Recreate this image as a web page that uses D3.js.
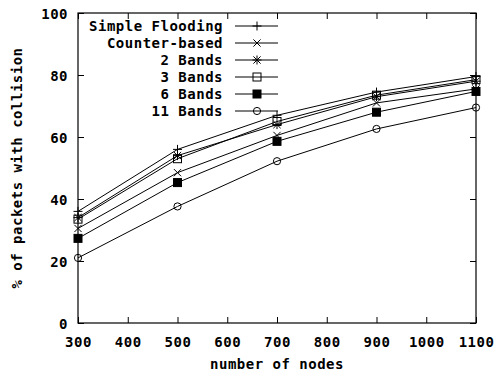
<!DOCTYPE html>
<html>
<head>
<meta charset="utf-8">
<script src="https://cdn.jsdelivr.net/npm/d3@7"></script>
<style>
body { margin: 0; background: #fff; }
text { font-family: "DejaVu Sans Mono", monospace; font-weight: bold; font-size: 14px; letter-spacing: 0.5px; fill: #000; }
</style>
</head>
<body>
<svg id="svg1" width="499" height="377"></svg>
<script>
var svg = d3.select('#svg1');

var nodes = [300, 500, 700, 900, 1100];
var xTicks = [300, 400, 500, 600, 700, 800, 900, 1000, 1100];
var yTicks = [0, 20, 40, 60, 80, 100];

var seriesNames = ['Simple Flooding', 'Counter-based', '2 Bands', '3 Bands', '6 Bands', '11 Bands'];
var seriesMarks = ['plus', 'cross', 'star', 'box', 'fbox', 'circle'];

var simpleFlooding = [36, 56, 67, 74.5, 79.5];
var counterBased = [30.5, 48.5, 60.5, 71, 75.5];
var twoBands = [34, 54, 64, 73, 78];
var threeBands = [33.5, 53, 65, 73.5, 78.5];
var sixBands = [27.3, 45.3, 58.6, 68, 74.7];
var elevenBands = [21, 37.6, 52.2, 62.6, 69.5];

var seriesValues = [simpleFlooding, counterBased, twoBands, threeBands, sixBands, elevenBands];

var padding = {t: 13, r: 23, b: 54, l: 78};
var w = 499 - padding.l - padding.r;
var h = 377 - padding.t - padding.b;

var xScale = d3.scaleLinear().domain([300, 1100]).range([0, w]);
var yScale = d3.scaleLinear().domain([0, 100]).range([h, 0]);

var plot = svg.append('g')
    .attr('transform', 'translate(' + [padding.l, padding.t] + ')');

// ticks on all four sides, pointing inward
function tickLines(axis, tr) {
    var g = plot.append('g').attr('transform', tr).call(axis);
    g.select('.domain').remove();
    g.selectAll('line').attr('stroke', '#000');
    g.selectAll('text').attr('font-size', null).attr('font-family', null);
    return g;
}
tickLines(d3.axisBottom(xScale).tickValues(xTicks).tickSize(-6).tickPadding(14).tickFormat(d3.format('d')), 'translate(0,' + h + ')');
tickLines(d3.axisTop(xScale).tickValues(xTicks).tickSize(-6).tickFormat(''), 'translate(0,0)');
tickLines(d3.axisLeft(yScale).tickValues(yTicks).tickSize(-6).tickPadding(10), 'translate(0,0)')
    .selectAll('text').attr('dy', '0.38em');
tickLines(d3.axisRight(yScale).tickValues(yTicks).tickSize(-6).tickFormat(''), 'translate(' + w + ',0)');

plot.append('rect')
    .attr('width', w)
    .attr('height', h)
    .attr('fill', 'none')
    .attr('stroke', '#000')
    .attr('stroke-width', 1.2);

function drawMark(g, type, x, y) {
    var s = 4.5;
    if (type == 'plus' || type == 'star') {
        g.append('line').attr('x1', x - s).attr('x2', x + s).attr('y1', y).attr('y2', y);
        g.append('line').attr('x1', x).attr('x2', x).attr('y1', y - s).attr('y2', y + s);
    }
    if (type == 'cross' || type == 'star') {
        var c = s * 0.8;
        g.append('line').attr('x1', x - c).attr('x2', x + c).attr('y1', y - c).attr('y2', y + c);
        g.append('line').attr('x1', x - c).attr('x2', x + c).attr('y1', y + c).attr('y2', y - c);
    }
    if (type == 'box' || type == 'fbox') {
        g.append('rect').attr('x', x - 4).attr('y', y - 4).attr('width', 8).attr('height', 8)
            .attr('fill', type == 'fbox' ? '#000' : 'none');
    }
    if (type == 'circle') {
        g.append('circle').attr('cx', x).attr('cy', y).attr('r', 3.6).attr('fill', 'none');
    }
}

var line = d3.line()
    .x(function(d, i) { return xScale(nodes[i]); })
    .y(function(d) { return yScale(d); });

seriesValues.forEach(function(vals, k) {
    var g = plot.append('g').attr('stroke', '#000').attr('stroke-width', 1);
    g.append('path').attr('d', line(vals)).attr('fill', 'none');
    vals.forEach(function(v, i) {
        drawMark(g, seriesMarks[k], xScale(nodes[i]), yScale(v));
    });
});

// legend
var legend = svg.append('g').selectAll('.legend')
    .data(seriesNames)
    .enter()
    .append('g')
    .attr('class', 'legend')
    .attr('transform', function(d, i) { return 'translate(0,' + (26 + i * 17) + ')'; });

legend.append('text')
    .attr('x', 223)
    .attr('dy', '0.35em')
    .attr('text-anchor', 'end')
    .text(function(d) { return d; });

legend.each(function(d, i) {
    var g = d3.select(this).append('g').attr('stroke', '#000').attr('stroke-width', 1);
    g.append('line').attr('x1', 235).attr('x2', 278).attr('y1', 0).attr('y2', 0);
    drawMark(g, seriesMarks[i], 257, 0);
});

svg.append('text')
    .attr('x', padding.l + w / 2)
    .attr('y', 369)
    .attr('text-anchor', 'middle')
    .text('number of nodes');

svg.append('text')
    .attr('transform', 'translate(22,' + (padding.t + h / 2) + ') rotate(-90)')
    .attr('text-anchor', 'middle')
    .text('% of packets with collision');
</script>
</body>
</html>
